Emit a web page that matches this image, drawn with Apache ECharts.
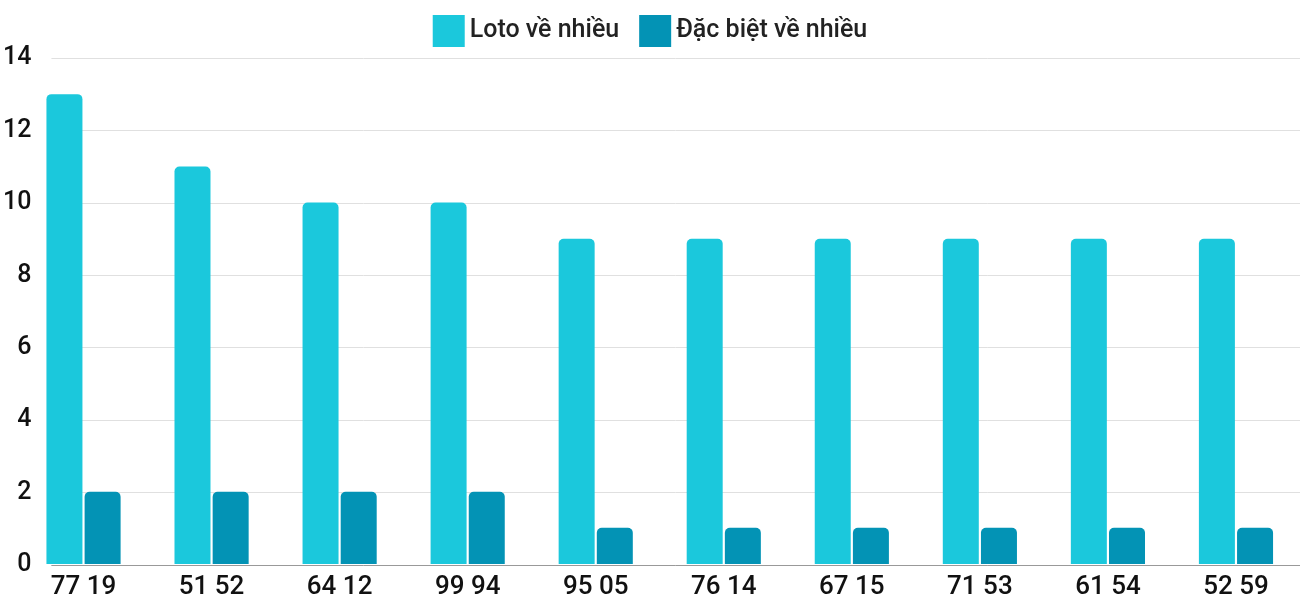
<!DOCTYPE html><html><head><meta charset="utf-8"><script src="https://cdn.jsdelivr.net/npm/echarts@6/dist/echarts.min.js"></script></head><body style="margin:0"><div id="c" style="width:1300px;height:600px"></div><script>
const categories=["77 19","51 52","64 12","99 94","95 05","76 14","67 15","71 53","61 54","52 59"];
const loto=[13,11,10,10,9,9,9,9,9,9];
const dacbiet=[2,2,2,2,1,1,1,1,1,1];
const yTicks=[0,2,4,6,8,10,12,14];
const ch=echarts.init(document.getElementById('c'));
const f='Roboto';
ch.setOption({
 animation:false,
 legend:{top:10,left:'center',itemWidth:32,itemHeight:32,itemGap:20,icon:'rect',textStyle:{fontFamily:f,fontSize:25,fontWeight:500,color:'#222'},data:['Loto về nhiều','Đặc biệt về nhiều']},
 grid:[{left:48,right:0,top:58,bottom:35},{left:19.5,width:1309,top:58,bottom:35}],
 xAxis:[{gridIndex:0,type:'category',data:categories,show:false},
  {gridIndex:1,type:'category',data:categories,axisTick:{show:false},axisLine:{show:false},axisLabel:{fontFamily:f,fontSize:26,fontWeight:500,color:'#111',margin:10}}],
 yAxis:[{gridIndex:0,type:'value',min:0,max:14,interval:2,axisLabel:{fontFamily:f,fontSize:25,fontWeight:500,color:'#111',margin:20,formatter:v=>yTicks.includes(v)?String(v):''},splitLine:{lineStyle:{color:'#e0e0e0'}},axisLine:{show:false},axisTick:{show:false}},
  {gridIndex:1,type:'value',min:0,max:14,show:false}],
 series:[
  {type:'line',xAxisIndex:0,yAxisIndex:0,data:[],markLine:{silent:true,symbol:'none',label:{show:false},lineStyle:{color:'#999',type:'solid',width:1},data:[{yAxis:0}]}},
  {name:'Loto về nhiều',type:'bar',xAxisIndex:1,yAxisIndex:1,data:loto,barWidth:36,barGap:'6%',itemStyle:{color:'#1bc8dc',borderRadius:[5,5,0,0]}},
  {name:'Đặc biệt về nhiều',type:'bar',xAxisIndex:1,yAxisIndex:1,data:dacbiet,barWidth:36,barGap:'6%',itemStyle:{color:'#0393b5',borderRadius:[5,5,0,0]}}
 ]
});
</script></body></html>
